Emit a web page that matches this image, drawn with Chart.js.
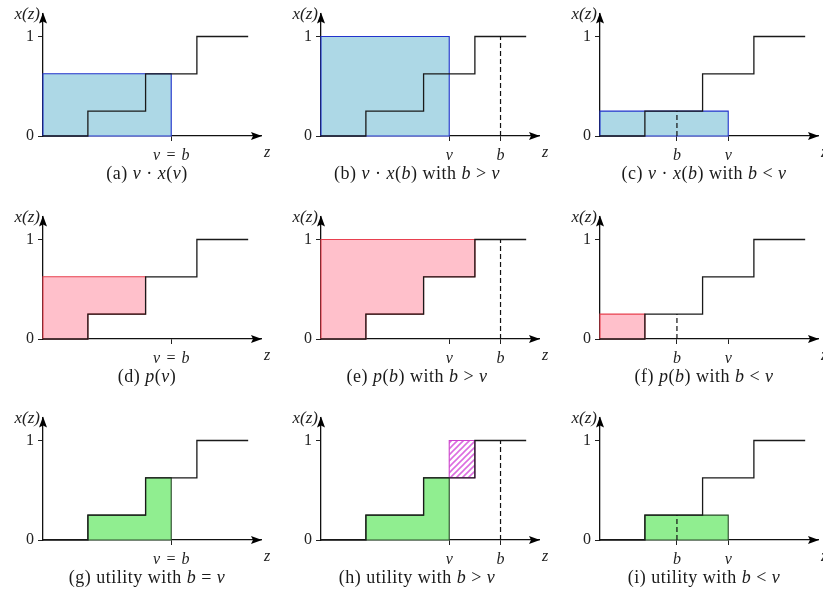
<!DOCTYPE html>
<html>
<head>
<meta charset="utf-8">
<script src="https://cdn.jsdelivr.net/npm/chart.js@4.4.1/dist/chart.umd.min.js"></script>
<style>
  html, body { margin:0; padding:0; background:#fff; }
  body { width:823px; height:593px; overflow:hidden; position:relative; }
  canvas { position:absolute; }
  .cap { position:absolute; text-align:center; font-family:"Liberation Serif", serif; font-size:18px; letter-spacing:0.5px; line-height:20px; color:#1a1a1a; white-space:nowrap; }
</style>
</head>
<body>
<script>
// ---------------- data ----------------
const stepZ = [0, 1.75, 1.75, 4, 4, 6, 6, 8];
const stepX = [0, 0, 0.25, 0.25, 0.625, 0.625, 1, 1];

const valueV = 5;
const bidHigh = 7;
const bidLow = 3;

const yTickValues = [0, 1];
const yTickLabels = ['0', '1'];

const ticksEqual = [valueV];
const labelsEqual = ['v\u2004=\u2004b'];
const ticksHigh = [valueV, bidHigh];
const labelsHigh = ['v', 'b'];
const ticksLow = [bidLow, valueV];
const labelsLow = ['b', 'v'];

const xAxisLabel = 'z';
const yAxisLabel = 'x(z)';

const dashHighX = [0, 1];
const dashLowX = [0, 0.25];

const blueA_z = [0, 0, 5, 5, 0];        const blueA_x = [0, 0.625, 0.625, 0, 0];
const blueB_z = [0, 0, 5, 5, 0];        const blueB_x = [0, 1, 1, 0, 0];
const blueC_z = [0, 0, 5, 5, 0];        const blueC_x = [0, 0.25, 0.25, 0, 0];
const pinkD_z = [0, 0, 4, 4, 1.75, 1.75, 0];             const pinkD_x = [0, 0.625, 0.625, 0.25, 0.25, 0, 0];
const pinkE_z = [0, 0, 6, 6, 4, 4, 1.75, 1.75, 0];       const pinkE_x = [0, 1, 1, 0.625, 0.625, 0.25, 0.25, 0, 0];
const pinkF_z = [0, 0, 1.75, 1.75, 0];  const pinkF_x = [0, 0.25, 0.25, 0, 0];
const greenG_z = [1.75, 1.75, 4, 4, 5, 5, 1.75];         const greenG_x = [0, 0.25, 0.25, 0.625, 0.625, 0, 0];
const greenH_z = [1.75, 1.75, 4, 4, 5, 5, 1.75];         const greenH_x = [0, 0.25, 0.25, 0.625, 0.625, 0, 0];
const hatchH_z = [5, 5, 6, 6, 5];       const hatchH_x = [0.625, 1, 1, 0.625, 0.625];
const greenI_z = [1.75, 1.75, 5, 5, 1.75];               const greenI_x = [0, 0.25, 0.25, 0, 0];

const captions = [
  '(a) <i>v</i> · <i>x</i>(<i>v</i>)',
  '(b) <i>v</i> · <i>x</i>(<i>b</i>) with <i>b</i> &gt; <i>v</i>',
  '(c) <i>v</i> · <i>x</i>(<i>b</i>) with <i>b</i> &lt; <i>v</i>',
  '(d) <i>p</i>(<i>v</i>)',
  '(e) <i>p</i>(<i>b</i>) with <i>b</i> &gt; <i>v</i>',
  '(f) <i>p</i>(<i>b</i>) with <i>b</i> &lt; <i>v</i>',
  '(g) utility with <i>b</i> = <i>v</i>',
  '(h) utility with <i>b</i> &gt; <i>v</i>',
  '(i) utility with <i>b</i> &lt; <i>v</i>'
];

// ---------------- styles ----------------
function hatchPattern() {
  const c = document.createElement('canvas');
  c.width = 6; c.height = 6;
  const g = c.getContext('2d');
  g.fillStyle = '#ffffff'; g.fillRect(0, 0, 6, 6);
  g.strokeStyle = '#dc6ee0'; g.lineWidth = 1.6;
  g.beginPath();
  g.moveTo(-1, 7); g.lineTo(7, -1);
  g.moveTo(-4, 4); g.lineTo(4, -4);
  g.moveTo(2, 10); g.lineTo(10, 2);
  g.stroke();
  return g.createPattern(c, 'repeat');
}
const kinds = {
  blue:  { bg: '#add8e6', border: '#2233cc' },
  pink:  { bg: '#ffc0cb', border: '#e8404f' },
  green: { bg: '#90ee90', border: '#2a4a2a' },
  hatch: { bg: hatchPattern(), border: '#cc44cc' }
};

const panels = [
  { tv: ticksEqual, tl: labelsEqual, dashZ: null, dashX: null, fills: [[blueA_z, blueA_x, 'blue']] },
  { tv: ticksHigh, tl: labelsHigh, dashZ: bidHigh, dashX: dashHighX, fills: [[blueB_z, blueB_x, 'blue']] },
  { tv: ticksLow, tl: labelsLow, dashZ: bidLow, dashX: dashLowX, fills: [[blueC_z, blueC_x, 'blue']] },
  { tv: ticksEqual, tl: labelsEqual, dashZ: null, dashX: null, fills: [[pinkD_z, pinkD_x, 'pink']] },
  { tv: ticksHigh, tl: labelsHigh, dashZ: bidHigh, dashX: dashHighX, fills: [[pinkE_z, pinkE_x, 'pink']] },
  { tv: ticksLow, tl: labelsLow, dashZ: bidLow, dashX: dashLowX, fills: [[pinkF_z, pinkF_x, 'pink']] },
  { tv: ticksEqual, tl: labelsEqual, dashZ: null, dashX: null, fills: [[greenG_z, greenG_x, 'green']] },
  { tv: ticksHigh, tl: labelsHigh, dashZ: bidHigh, dashX: dashHighX, fills: [[hatchH_z, hatchH_x, 'hatch'], [greenH_z, greenH_x, 'green']] },
  { tv: ticksLow, tl: labelsLow, dashZ: bidLow, dashX: dashLowX, fills: [[greenI_z, greenI_x, 'green']] }
];

const colLeft = [0, 278, 557];
const capLeft = [0, 270, 557];
const rowTop = [0, 203, 404];
const CW = 275, CH = 168;
const SERIF = '"Liberation Serif", "DejaVu Serif", serif';

function toPts(zs, xs) { return zs.map((z, i) => ({ x: z, y: xs[i] })); }

const axisDecor = {
  id: 'axisDecor',
  afterDraw(chart) {
    const ctx = chart.ctx;
    const xs = chart.scales.x, ys = chart.scales.y;
    const x0 = xs.getPixelForValue(0), y0 = ys.getPixelForValue(0);
    const xE = xs.getPixelForValue(xs.max), yE = ys.getPixelForValue(ys.max);
    ctx.save();
    ctx.fillStyle = '#000';
    ctx.beginPath();
    ctx.moveTo(xE + 1, y0);
    ctx.lineTo(xE - 10, y0 - 4);
    ctx.lineTo(xE - 8, y0);
    ctx.lineTo(xE - 10, y0 + 4);
    ctx.closePath(); ctx.fill();
    ctx.beginPath();
    ctx.moveTo(x0, yE - 1);
    ctx.lineTo(x0 - 4, yE + 10);
    ctx.lineTo(x0, yE + 8);
    ctx.lineTo(x0 + 4, yE + 10);
    ctx.closePath(); ctx.fill();
    ctx.fillStyle = '#222';
    ctx.font = 'italic 16px ' + SERIF;
    ctx.textBaseline = 'middle';
    ctx.textAlign = 'left';
    ctx.fillText(xAxisLabel, xE + 3, y0 + 17);
    ctx.font = 'italic 17px ' + SERIF;
    ctx.textAlign = 'right';
    ctx.fillText(yAxisLabel, x0 - 3, yE + 1);
    ctx.restore();
  }
};

panels.forEach((p, i) => {
  const col = i % 3, row = Math.floor(i / 3);
  const cv = document.createElement('canvas');
  cv.width = CW; cv.height = CH;
  cv.style.left = colLeft[col] + 'px';
  cv.style.top = rowTop[row] + 'px';
  cv.style.width = CW + 'px'; cv.style.height = CH + 'px';
  document.body.appendChild(cv);

  const cap = document.createElement('div');
  cap.className = 'cap';
  cap.style.left = capLeft[col] + 'px';
  cap.style.width = '294px';
  cap.style.top = (rowTop[row] + 163) + 'px';
  cap.innerHTML = captions[i];
  document.body.appendChild(cap);

  const common = { showLine: true, pointRadius: 0, pointHoverRadius: 0, clip: false, tension: 0 };
  const datasets = [];
  if (p.dashZ !== null) {
    datasets.push(Object.assign({}, common, {
      data: toPts([p.dashZ, p.dashZ], p.dashX), borderColor: '#111', borderWidth: 1.2,
      borderDash: [5, 3], fill: false
    }));
  }
  datasets.push(Object.assign({}, common, {
    data: toPts(stepZ, stepX), borderColor: '#1a1a1a', borderWidth: 1.3, fill: false
  }));
  p.fills.forEach(f => {
    const k = kinds[f[2]];
    datasets.push(Object.assign({}, common, {
      data: toPts(f[0], f[1]), borderColor: k.border, backgroundColor: k.bg,
      borderWidth: 1.1, fill: 'shape'
    }));
  });

  const tickGrid = { display: true, drawOnChartArea: false, drawTicks: true, tickLength: 5, color: '#222', lineWidth: 1 };
  const axisBorder = { display: true, color: '#111', width: 1.3 };

  new Chart(cv, {
    type: 'scatter',
    data: { datasets },
    options: {
      responsive: false, animation: false, events: [],
      layout: { padding: { left: 0, right: 14, top: 12, bottom: 0 } },
      plugins: { legend: { display: false }, tooltip: { enabled: false }, title: { display: false } },
      scales: {
        x: {
          type: 'linear', min: 0, max: 8.5,
          afterFit(s) { s.height = 32; },
          afterBuildTicks(s) { s.ticks = p.tv.map(v => ({ value: v })); },
          ticks: {
            autoSkip: false, maxRotation: 0, minRotation: 0, padding: 5, color: '#222',
            font: { family: SERIF, size: 16, style: 'italic' },
            callback: (val) => p.tl[p.tv.indexOf(val)]
          },
          grid: tickGrid, border: axisBorder
        },
        y: {
          type: 'linear', min: 0, max: 1.23,
          afterFit(s) { s.width = 43; },
          afterBuildTicks(s) { s.ticks = yTickValues.map(v => ({ value: v })); },
          ticks: {
            padding: 4, color: '#222',
            font: { family: SERIF, size: 16 },
            callback: (val) => yTickLabels[yTickValues.indexOf(val)]
          },
          grid: tickGrid, border: axisBorder
        }
      }
    },
    plugins: [axisDecor]
  });
});
</script>
</body>
</html>
